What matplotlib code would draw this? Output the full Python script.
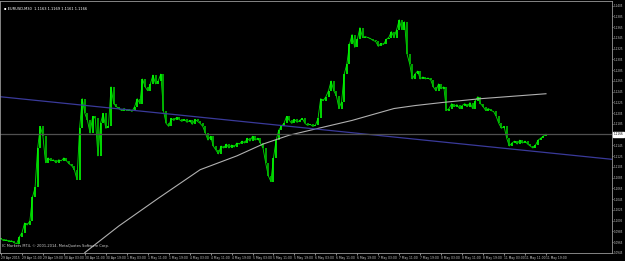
import matplotlib
matplotlib.use("Agg")
import matplotlib.pyplot as plt
import numpy as np

# Hourly closes (EURUSD, 29 Apr 03:00 -> 11 May 20:00, trading hours)
closes = [
    1.09715, 1.09678, 1.09696, 1.09660, 1.09678, 1.09641, 1.09623, 1.09751, 1.09825, 1.10008,
    1.09971, 1.10045, 1.10485, 1.10669, 1.11403, 1.11806, 1.11623, 1.11128, 1.11219, 1.11164,
    1.11183, 1.11128, 1.11183, 1.11164, 1.11219, 1.11164, 1.11109, 1.11072, 1.10999, 1.10815,
    1.11770, 1.12320, 1.12045, 1.11916, 1.11678, 1.11990, 1.11953, 1.11256, 1.11861, 1.12045,
    1.11770, 1.11806, 1.12540, 1.12228, 1.12173, 1.12137, 1.12100, 1.12137, 1.12100, 1.12118,
    1.12082, 1.12173, 1.12320, 1.12228, 1.12687, 1.12540, 1.12467, 1.12595, 1.12760, 1.12595,
    1.12650, 1.12779, 1.12100, 1.11861, 1.11806, 1.11953, 1.11916, 1.11971, 1.11935, 1.11898,
    1.11935, 1.11880, 1.11916, 1.11843, 1.11935, 1.11898,
    1.11861, 1.11806, 1.11678, 1.11550, 1.11623, 1.11440, 1.11366, 1.11293, 1.11440, 1.11403,
    1.11476, 1.11403, 1.11458, 1.11421, 1.11495, 1.11476, 1.11531, 1.11495, 1.11586, 1.11531,
    1.11623, 1.11550, 1.11586, 1.11495, 1.11403, 1.11128, 1.10889, 1.10779, 1.11219, 1.11550,
    1.11733, 1.11806, 1.11861, 1.11990, 1.11916, 1.11861, 1.11935, 1.11880,
    1.11916, 1.11953, 1.11861, 1.11825, 1.11843, 1.11806, 1.11825, 1.11953, 1.12320, 1.12283,
    1.12357, 1.12467, 1.12650, 1.12467, 1.12375, 1.12137, 1.12265, 1.12779, 1.12962, 1.13329,
    1.13513, 1.13274, 1.13421, 1.13641, 1.13458, 1.13476, 1.13458, 1.13439, 1.13403, 1.13384,
    1.13293, 1.13348, 1.13329, 1.13421, 1.13458, 1.13568, 1.13458, 1.13605, 1.13788, 1.13605,
    1.13751, 1.13146, 1.12962, 1.12687, 1.12779, 1.12834, 1.12687, 1.12724, 1.12687, 1.12705,
    1.12669, 1.12540, 1.12467, 1.12595, 1.12504, 1.12540, 1.12100, 1.12137,
    1.12228, 1.12173, 1.12210, 1.12137, 1.12192, 1.12228, 1.12173, 1.12247, 1.12137, 1.12283,
    1.12357, 1.12228, 1.12173, 1.12100, 1.12137, 1.12100, 1.12082, 1.11990, 1.11861, 1.11770,
    1.11806, 1.11586, 1.11440, 1.11495, 1.11531, 1.11476, 1.11550, 1.11495, 1.11531, 1.11476,
    1.11440, 1.11403, 1.11458, 1.11550, 1.11586, 1.11623, 1.11660,
]

# Moving average (anchor hours and values)
ma_hours = [32, 45, 60, 76, 90, 100, 110, 118, 126, 134, 142, 150, 158, 168, 183, 208]
ma_values = [1.09458, 1.09953, 1.10467, 1.10999, 1.11256, 1.11476, 1.11641, 1.11733,
             1.11825, 1.11916, 1.12027, 1.12137, 1.12192, 1.12247, 1.12320, 1.12412]

# Trend line anchors (hour, price)
trend_hours = [0, 208]
trend_prices = [1.12355, 1.11318]

current_price = 1.1166

tick_labels = ["29 Apr 2015", "29 Apr 11:00", "29 Apr 19:00", "30 Apr 03:00", "30 Apr 11:00",
               "30 Apr 19:00", "1 May 03:00", "1 May 11:00", "1 May 19:00", "4 May 03:00",
               "4 May 11:00", "4 May 19:00", "5 May 03:00", "5 May 11:00", "5 May 19:00",
               "6 May 03:00", "6 May 11:00", "6 May 19:00", "7 May 03:00", "7 May 11:00",
               "7 May 19:00", "8 May 03:00", "8 May 11:00", "8 May 19:00", "11 May 03:00",
               "11 May 11:00", "11 May 19:00"]
tick_hours = [8 * i for i in range(len(tick_labels))]

price_ticks = [round(1.1405 - 0.0020 * i, 4) for i in range(24)]

header = "EURUSD,M30  1.1163 1.1169 1.1161 1.1166"
footer = "IC Markets MT4, \u00a9 2001-2014, MetaQuotes Software Corp."

W, H = 625, 261
fig = plt.figure(figsize=(W / 100, H / 100), dpi=100, facecolor="black")
ax = fig.add_axes([0, 8 / H, 612 / W, 252 / H], facecolor="black")

hours = np.arange(len(closes))
opens = [closes[0]] + closes[:-1]
ax.plot(hours, closes, color="#00e000", linewidth=0.6)
for h, o, c in zip(hours, opens, closes):
    col = "#00ff00" if c >= o else "#00c000"
    lo, hi = min(o, c), max(o, c)
    if hi - lo < 0.00005:
        hi = lo + 0.00008
    ax.vlines(h, lo, hi, color=col, linewidth=1.2)

ax.plot(ma_hours, ma_values, color="#b0b0b0", linewidth=0.8)
ax.axline((trend_hours[0], trend_prices[0]), (trend_hours[1], trend_prices[1]),
          color="#3a3a9a", linewidth=0.9)
ax.axhline(current_price, color="#505050", linewidth=0.9)

ax.set_xlim(-0.38, 233.2)
ax.set_ylim(1.09494, 1.14137)

ax.yaxis.tick_right()
ax.set_yticks(price_ticks)
ax.set_yticklabels([f"{p:.4f}" for p in price_ticks])
ax.tick_params(axis="y", colors="#c8c8c8", labelsize=2.0, length=1.0, width=0.5, pad=0.5)
ax.set_xticks(tick_hours)
ax.set_xticklabels(tick_labels, ha="left")
ax.tick_params(axis="x", colors="#c8c8c8", labelsize=2.2, length=1.5, width=0.5, pad=0.6)

for s in ["left", "top", "right", "bottom"]:
    ax.spines[s].set_color("#9a9a9a")
    ax.spines[s].set_linewidth(0.6)

ax.text(1.003, current_price, f"{current_price:.4f}", transform=ax.get_yaxis_transform(),
        fontsize=2.0, color="black", va="center", ha="left",
        bbox=dict(boxstyle="square,pad=0.2", facecolor="white", edgecolor="white"))

fig.text(4 / W, 1 - 9 / H, "\u25aa " + header, color="white", fontsize=2.6, va="center", ha="left")
ax.text(0.004, 0.02, footer, transform=ax.transAxes, color="#d0d0d0", fontsize=2.6,
        va="bottom", ha="left")

fig.savefig("out.png", dpi=100, facecolor="black")
